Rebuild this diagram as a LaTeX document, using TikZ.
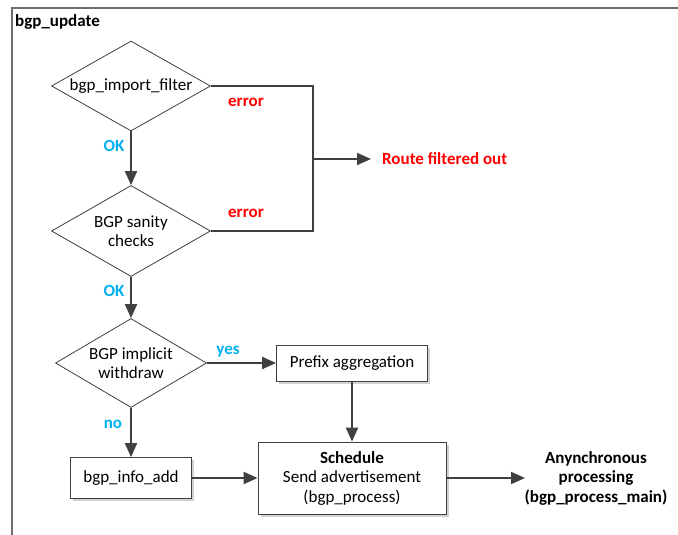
\documentclass[tikz,border=0pt]{standalone}
\usepackage{fontspec}
\setmainfont{Carlito}
\usetikzlibrary{shapes.geometric,arrows.meta,shadows}

\definecolor{linegray}{HTML}{404040}
\definecolor{framegray}{HTML}{6E6E6E}
\definecolor{errred}{HTML}{FF0000}
\definecolor{okblue}{HTML}{00B0F0}

\tikzset{
  every node/.style={font=\fontsize{17}{19.5}\selectfont},
  decision/.style={diamond, aspect=1.77, draw=black!75, line width=0.8pt, fill=white,
    inner sep=0pt, align=center},
  procbox/.style={rectangle, draw=black!75, line width=0.8pt, fill=white,
    align=center, inner sep=0pt,
    drop shadow={shadow xshift=2.5pt, shadow yshift=-2.5pt, fill=black!18, opacity=1}},
  flow/.style={draw=linegray, line width=2pt},
  flowarrow/.style={flow, -{Triangle[length=14pt,width=12pt]}},
  errlabel/.style={text=errred, font=\fontsize{17}{19.5}\selectfont\bfseries},
  oklabel/.style={text=okblue, font=\fontsize{17}{19.5}\selectfont\bfseries},
  plainbold/.style={font=\fontsize{17}{19.5}\selectfont\bfseries, align=center}
}

\begin{document}
\begin{tikzpicture}[x=1pt, y=-1pt]
  \useasboundingbox (0,0) rectangle (678,535);

  % enclosing frame of the function
  \draw[framegray, line width=1.6pt] (12,535) -- (12,8) -- (678,8);
  \node[plainbold, anchor=west, inner sep=0pt] (title) at (15,22) {bgp\_update};

  % decisions
  \node[decision, minimum width=159pt, minimum height=90pt] (filter) at (131,86) {bgp\_import\_filter};
  \node[decision, minimum width=159pt, minimum height=91pt] (sanity) at (131,231) {BGP sanity\\checks};
  \node[decision, minimum width=151pt, minimum height=89pt, aspect=1.7] (implicit) at (131,363) {BGP implicit\\withdraw};

  % processing boxes
  \node[procbox, minimum width=151pt, minimum height=36pt] (aggr) at (352,363) {Prefix aggregation};
  \node[procbox, minimum width=121pt, minimum height=41pt] (infoadd) at (131,478) {bgp\_info\_add};
  \node[procbox, minimum width=188pt, minimum height=72pt] (sched) at (352,478)
    {\textbf{Schedule}\\Send advertisement\\(bgp\_process)};

  % outcomes
  \node[errlabel, anchor=west, inner sep=0pt, inner xsep=11pt] (route) at (371,159) {Route filtered out};
  \node[plainbold, inner sep=0pt] (async) at (596,478) {Anynchronous\\processing\\(bgp\_process\_main)};
  \coordinate (asyncin) at (525,478);

  % error branch
  \coordinate (split) at (313,159);
  \draw[flow] (filter.east) -| (split) |- (sanity.east);
  \draw[flowarrow] (split) -- (route.west);

  % main flow
  \draw[flowarrow] (filter.south) -- (sanity.north);
  \draw[flowarrow] (sanity.south) -- (implicit.north);
  \draw[flowarrow] (implicit.east) -- (aggr.west);
  \draw[flowarrow] (implicit.south) -- (infoadd.north);
  \draw[flowarrow] (aggr.south) -- (sched.north);
  \draw[flowarrow] (infoadd.east) -- (sched.west);
  \draw[flowarrow] (sched.east) -- (asyncin);

  % branch labels
  \node[errlabel] (err1) at (246,102) {error};
  \node[errlabel] (err2) at (246,213) {error};
  \node[oklabel] (ok1) at (114,146) {OK};
  \node[oklabel] (ok2) at (114,291) {OK};
  \node[oklabel] (yes) at (228,352) {yes};
  \node[oklabel] (no) at (113,424) {no};
\end{tikzpicture}
\end{document}
